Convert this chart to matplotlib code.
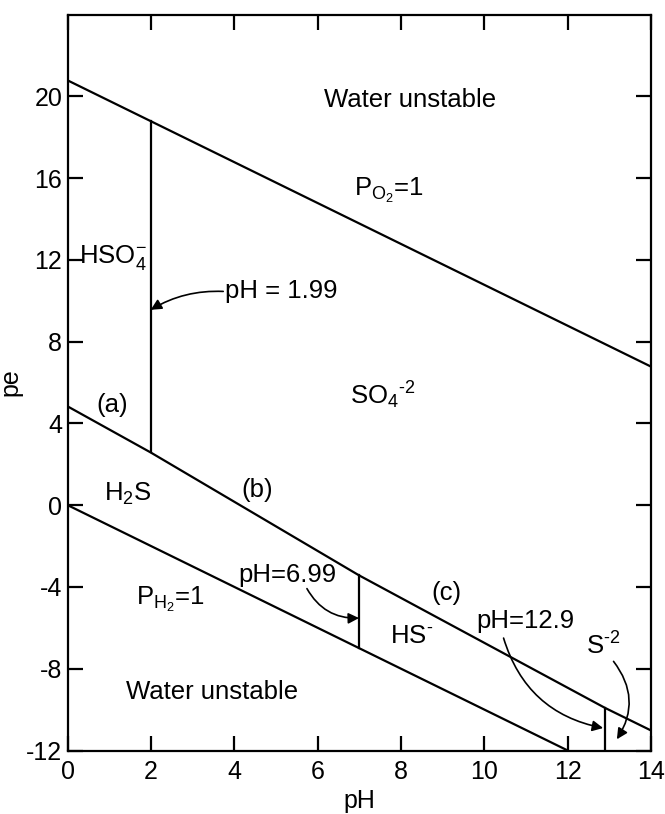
import numpy as np
import matplotlib
matplotlib.use("Agg")
import matplotlib.pyplot as plt

plt.rcParams['font.family'] = ['Liberation Sans', 'DejaVu Sans']
plt.rcParams['mathtext.fontset'] = 'custom'
plt.rcParams['mathtext.rm'] = 'Liberation Sans'
plt.rcParams['mathtext.it'] = 'Liberation Sans:italic'
plt.rcParams['mathtext.bf'] = 'Liberation Sans:bold'
plt.rcParams['axes.unicode_minus'] = False

# water stability limits
o2_ph = [0, 14]
o2_pe = [20.78, 6.78]
h2_ph = [0, 12]
h2_pe = [0, -12]

# sulfur boundaries (a), (b), (c) and S-2 segment
s_ph = [0, 1.99, 6.99, 12.9, 14]
s_pe = [4.83, 2.58, -3.43, -9.92, -11.02]

# vertical boundaries: pH, pe bottom, pe top
v_ph = [1.99, 6.99, 12.9]
v_lo = [2.58, -6.99, -12.0]
v_hi = [18.79, -3.43, -9.92]

xticks = np.arange(0, 15, 2)
yticks = np.arange(-12, 21, 4)

fig = plt.figure(figsize=(6.65, 8.14), dpi=100)
ax = fig.add_axes([0.102, 0.078, 0.877, 0.904])

lw = 1.6
ax.plot(o2_ph, o2_pe, color='black', lw=lw)
ax.plot(h2_ph, h2_pe, color='black', lw=lw)
ax.plot(s_ph, s_pe, color='black', lw=lw)
for x, lo, hi in zip(v_ph, v_lo, v_hi):
    ax.plot([x, x], [lo, hi], color='black', lw=lw)

ax.set_xlim(0, 14)
ax.set_ylim(-12, 24)
ax.set_xticks(xticks)
ax.set_yticks(yticks)
ax.tick_params(direction='in', length=11, width=1.6, labelsize=18,
               top=True, right=True)
ax.tick_params(axis='y', pad=4)
ax.tick_params(axis='x', pad=7)
for sp in ax.spines.values():
    sp.set_linewidth(1.6)
ax.set_xlabel('pH', fontsize=18)
ax.set_ylabel('pe', fontsize=18)
ax.xaxis.set_label_coords(0.5, -0.052)
ax.yaxis.set_label_coords(-0.077, 0.5)

hy = '\u2010'  # short hyphen for charges
fs = 18.5
ax.text(8.22, 19.84, 'Water unstable', fontsize=fs, ha='center', va='center')
ax.text(7.7, 15.4, r'$\mathregular{P_{O_2}}$=1', fontsize=fs, ha='center', va='center')
ax.text(1.09, 12.1, '$\\mathregular{HSO_4^{\u2212}}$', fontsize=fs, ha='center', va='center')
ax.text(7.57, 5.4, r'$\mathregular{SO_4}$$\mathregular{^{%s2}}$' % hy, fontsize=fs, ha='center', va='center')
ax.text(1.06, 4.92, '(a)', fontsize=fs, ha='center', va='center')
ax.text(4.54, 0.76, '(b)', fontsize=fs, ha='center', va='center')
ax.text(1.45, 0.55, r'$\mathregular{H_2S}$', fontsize=fs, ha='center', va='center')
ax.text(2.46, -4.6, r'$\mathregular{P_{H_2}}$=1', fontsize=fs, ha='center', va='center')
ax.text(9.1, -4.3, '(c)', fontsize=fs, ha='center', va='center')
ax.text(8.26, -6.4, r'$\mathregular{HS^{%s}}$' % hy, fontsize=fs, ha='center', va='center')
ax.text(12.85, -6.9, r'$\mathregular{S^{%s2}}$' % hy, fontsize=fs, ha='center', va='center')
ax.text(3.46, -9.16, 'Water unstable', fontsize=fs, ha='center', va='center')
ax.text(3.78, 10.5, 'pH = 1.99', fontsize=fs, ha='left', va='center')
ax.text(5.26, -3.4, 'pH=6.99', fontsize=fs, ha='center', va='center')
ax.text(10.98, -5.68, 'pH=12.9', fontsize=fs, ha='center', va='center')

aprops = dict(arrowstyle='-|>', color='black', lw=1.2, mutation_scale=16,
              shrinkA=0, shrinkB=0)
ax.annotate('', xy=(1.99, 9.56), xytext=(3.73, 10.46),
            arrowprops=dict(aprops, connectionstyle='arc3,rad=0.15'))
ax.annotate('', xy=(6.99, -5.52), xytext=(5.74, -4.08),
            arrowprops=dict(aprops, connectionstyle='arc3,rad=0.3'))
ax.annotate('', xy=(12.85, -10.9), xytext=(10.46, -6.5),
            arrowprops=dict(aprops, connectionstyle='arc3,rad=0.3'))
ax.annotate('', xy=(13.18, -11.45), xytext=(13.1, -7.64),
            arrowprops=dict(aprops, connectionstyle='arc3,rad=-0.35'))

fig.savefig('out.png', dpi=100)
